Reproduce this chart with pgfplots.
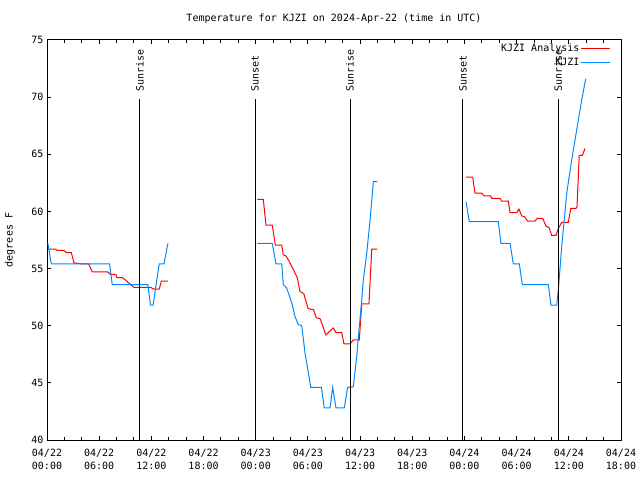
\documentclass[border=0pt]{standalone}
\usepackage{pgfplots}
\pgfplotsset{compat=1.18}
\usepackage{fontspec}
\setmainfont{DejaVu Sans Mono}
\definecolor{obsblue}{RGB}{0,136,255}
\definecolor{anared}{RGB}{255,0,0}
\begin{document}
\fontsize{10bp}{12bp}\selectfont
\begin{tikzpicture}
\useasboundingbox (0,0) rectangle (640bp,480bp);
\begin{axis}[
  at={(47bp,40bp)}, anchor=south west,
  scale only axis, width=574bp, height=400bp,
  xmin=0, xmax=66, ymin=40, ymax=75,
  axis line style={line width=1bp},
  every tick/.style={black, line width=1bp},
  tick align=inside,
  major tick length=4bp, minor tick length=3bp,
  xtick={0,6,...,66},
  minor x tick num=2,
  xticklabels={04/22\\00:00,04/22\\06:00,04/22\\12:00,04/22\\18:00,04/23\\00:00,04/23\\06:00,04/23\\12:00,04/23\\18:00,04/24\\00:00,04/24\\06:00,04/24\\12:00,04/24\\18:00},
  xticklabel style={align=center, font=\fontsize{10bp}{13bp}\selectfont, yshift=-6bp},
  ytick={40,45,...,75},
  /pgf/number format/assume math mode=true,
  ylabel={degrees F},
  every axis y label/.style={at={(axis description cs:-0.0645,0.5)}, rotate=90, anchor=center},
  title={Temperature for KJZI on 2024-Apr-22 (time in UTC)},
  every axis title/.style={at={(axis description cs:0.5,1.0525)}, anchor=center},
  unbounded coords=jump,
]
\addplot[color=anared, line width=1bp] coordinates {
(0.1,56.7) (1.0,56.7) (1.15,56.6) (1.95,56.6) (2.2,56.4) (2.8,56.4) (3.1,55.5) (4.05,55.4) (4.8,55.4) (5.2,54.7) (7.0,54.7) (7.25,54.5) (7.9,54.5) (8.05,54.2) (8.65,54.2) (8.95,54.05) (9.6,53.6) (10.0,53.36) (11.9,53.36) (12.3,53.2) (12.9,53.2) (13.15,53.9) (13.9,53.9)
(18,nan)
(24.18,61.06) (24.87,61.06) (25.18,58.8) (25.9,58.8) (26.25,57.06) (26.99,57.06) (27.17,56.2) (27.48,56.1) (27.8,55.7) (28.2,55.1) (28.78,54.2) (29.08,53.0) (29.53,52.8) (30.02,51.5) (30.65,51.4) (30.96,50.7) (31.42,50.6) (32.06,49.2) (32.92,49.8) (33.23,49.4) (33.89,49.4) (34.15,48.4) (34.84,48.4) (35.22,48.75) (35.91,48.75) (36.19,51.9) (37.02,51.9) (37.34,56.7) (37.98,56.7)
(42,nan)
(48.18,63.0) (48.95,63.0) (49.21,61.6) (49.98,61.6) (50.25,61.35) (51.02,61.35) (51.13,61.15) (52.08,61.15) (52.28,60.9) (53.04,60.9) (53.24,59.9) (54.01,59.9) (54.27,60.2) (54.58,59.6) (54.88,59.55) (55.27,59.16) (56.11,59.16) (56.38,59.4) (57.0,59.4) (57.38,58.7) (57.72,58.6) (58.03,57.9) (58.53,57.9) (58.79,58.5) (59.18,59.04) (59.94,59.04) (60.22,60.26) (60.83,60.26) (60.94,60.4) (61.2,64.9) (61.55,64.9) (61.86,65.5)
};
\addplot[color=obsblue, line width=1bp] coordinates {
(0.1,57.2) (0.5,55.4) (7.2,55.4) (7.5,53.6) (11.6,53.6) (11.9,51.8) (12.2,51.8) (12.9,55.4) (13.45,55.4) (13.9,57.2)
(18,nan)
(24.18,57.2) (25.9,57.2) (26.33,55.4) (26.99,55.4) (27.17,53.6) (27.56,53.3) (28.14,52.0) (28.52,50.8) (28.9,50.1) (29.29,50.0) (29.67,47.6) (30.16,45.4) (30.32,44.6) (31.56,44.6) (31.88,42.8) (32.54,42.8) (32.85,44.6) (33.23,42.8) (34.18,42.8) (34.57,44.6) (35.22,44.66) (35.61,47.3) (35.91,49.9) (36.19,52.25) (36.37,54.0) (36.76,56.3) (37.14,59.2) (37.45,61.9) (37.52,62.6) (37.98,62.6)
(42,nan)
(48.18,60.85) (48.56,59.1) (51.89,59.1) (52.2,57.2) (53.24,57.2) (53.62,55.4) (54.31,55.4) (54.65,53.6) (57.64,53.6) (57.95,51.8) (58.61,51.8) (58.79,53.1) (59.18,56.9) (59.76,61.6) (60.33,64.5) (60.9,67.1) (61.48,69.75) (61.94,71.6)
};
\addplot[black, line width=1bp, forget plot] coordinates {(10.69,40) (10.69,69.85)};
\addplot[black, line width=1bp, forget plot] coordinates {(23.92,40) (23.92,69.85)};
\addplot[black, line width=1bp, forget plot] coordinates {(34.84,40) (34.84,69.85)};
\addplot[black, line width=1bp, forget plot] coordinates {(47.83,40) (47.83,69.85)};
\addplot[black, line width=1bp, forget plot] coordinates {(58.76,40) (58.76,69.85)};
\node[rotate=90, anchor=west, inner sep=0pt] at (axis cs:10.69,70.47) {Sunrise};
\node[rotate=90, anchor=west, inner sep=0pt] at (axis cs:23.92,70.47) {Sunset};
\node[rotate=90, anchor=west, inner sep=0pt] at (axis cs:34.84,70.47) {Sunrise};
\node[rotate=90, anchor=west, inner sep=0pt] at (axis cs:47.83,70.47) {Sunset};
\node[rotate=90, anchor=west, inner sep=0pt] at (axis cs:58.76,70.47) {Sunrise};
% legend
\node[anchor=base east, inner sep=0pt] at (axis cs:61.24,74.02) {KJZI Analysis};
\addplot[color=anared, line width=1.2bp, forget plot] coordinates {(61.35,74.25) (64.73,74.25)};
\node[anchor=base east, inner sep=0pt] at (axis cs:61.24,72.80) {KJZI};
\addplot[color=obsblue, line width=1.2bp, forget plot] coordinates {(61.35,73.03) (64.73,73.03)};
\end{axis}
\end{tikzpicture}
\end{document}
